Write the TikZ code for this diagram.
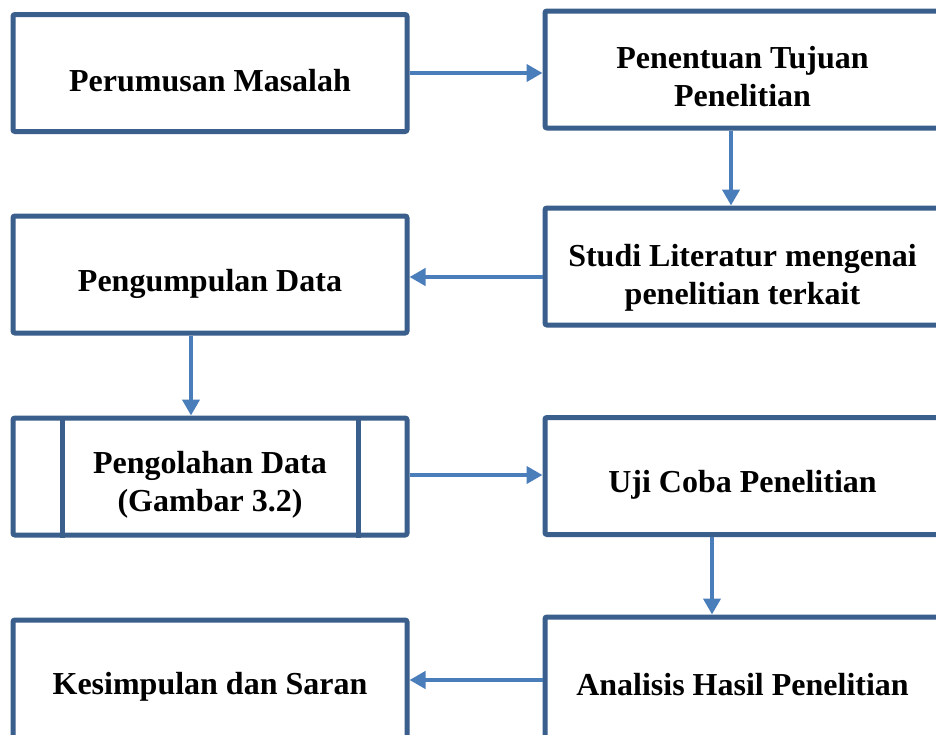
\documentclass[tikz,border=0pt]{standalone}
\usepackage{fontspec}
\setmainfont{Liberation Serif}
\usetikzlibrary{arrows.meta}
\definecolor{boxline}{RGB}{58,95,140}
\definecolor{flowline}{RGB}{74,126,187}
\begin{document}
\begin{tikzpicture}[x=1pt,y=-1pt,
  basebox/.style={draw=boxline, line width=5pt, rounded corners=2pt, fill=white,
                  inner sep=0pt, minimum height=117pt},
  leftbox/.style={basebox, minimum width=394pt},
  rightbox/.style={basebox, minimum width=395pt},
  boxtext/.style={font=\bfseries\fontsize{32}{38}\selectfont, align=center,
                  inner sep=0pt},
  flow/.style={draw=flowline, line width=4pt,
               -{Triangle[length=16pt,width=17pt]}}
]
\clip (0,0) rectangle (936,734);
\fill[white] (0,0) rectangle (936,734);

% process steps
\node[leftbox]  (a) at (210,73)
  [label={[boxtext, yshift=-8pt]center:Perumusan Masalah}] {};
\node[rightbox] (b) at (742.5,69.5)
  [label={[boxtext, yshift=-7pt]center:{Penentuan Tujuan\\Penelitian}}] {};
\node[rightbox] (c) at (742.5,266.5)
  [label={[boxtext, yshift=-11pt]center:{Studi Literatur mengenai\\penelitian terkait}}] {};
\node[leftbox]  (d) at (210,274.5)
  [label={[boxtext, yshift=-9pt]center:Pengumpulan Data}] {};
\node[leftbox]  (e) at (210,476.5)
  [label={[boxtext, yshift=-8pt]center:{Pengolahan Data\\(Gambar 3.2)}}] {};
\node[rightbox] (f) at (742.5,476)
  [label={[boxtext, yshift=-9pt]center:Uji Coba Penelitian}] {};
\node[rightbox, minimum height=126pt] (g) at (742.5,680)
  [label={[boxtext, yshift=-5pt]center:Analisis Hasil Penelitian}] {};
\node[leftbox, minimum height=126pt]  (h) at (210,683)
  [label={[boxtext, yshift=-4pt]center:Kesimpulan dan Saran}] {};

% side bars of the predefined-process box
\draw[boxline, line width=5pt] (e.north west -| 62,0) -- (e.south west -| 62,0);
\draw[boxline, line width=5pt] (e.north west -| 358,0) -- (e.south west -| 358,0);

% connectors
\draw[flow] (a.east) -- (a.east -| b.west);
\draw[flow] (b.south -| 731,0) -- (c.north -| 731,0);
\draw[flow] (c.west |- 0,277) -- (d.east |- 0,277);
\draw[flow] (d.south -| 191,0) -- (e.north -| 191,0);
\draw[flow] (e.east |- 0,475) -- (f.west |- 0,475);
\draw[flow] (f.south -| 712,0) -- (g.north -| 712,0);
\draw[flow] (g.west |- 0,680) -- (h.east |- 0,680);
\end{tikzpicture}
\end{document}
